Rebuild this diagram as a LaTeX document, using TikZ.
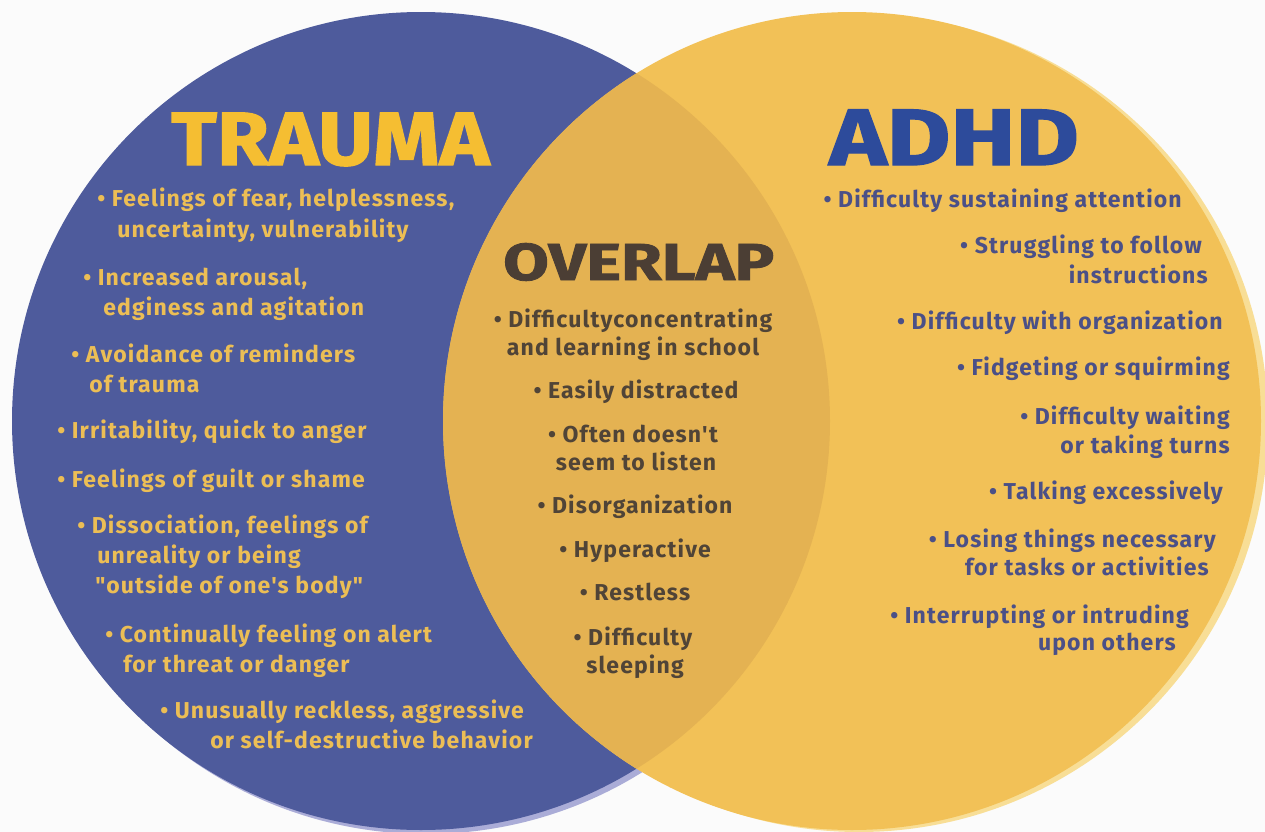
\documentclass[tikz,border=0pt]{standalone}
\usepackage{fontspec}
\setmainfont{Fira Sans}
\newfontfamily\bodyf{Fira Sans}[LetterSpace=5]
\newfontfamily\heavyf{Fira Sans}[BoldFeatures={FakeBold=1.5}]
\usepackage{graphicx}
\definecolor{bgc}{HTML}{FBFBFB}
\definecolor{bluec}{HTML}{4E5B9C}
\definecolor{blueshadow}{HTML}{AAACD7}
\definecolor{yelc}{HTML}{F2C157}
\definecolor{yelshadow}{HTML}{F8DE96}
\definecolor{ovc}{HTML}{E4B252}
\definecolor{trtitle}{HTML}{F5BE32}
\definecolor{trtext}{HTML}{ECBE55}
\definecolor{adtitle}{HTML}{2D4B9B}
\definecolor{adtext}{HTML}{4B5087}
\definecolor{ovtitle}{HTML}{4B3E34}
\definecolor{ovtext}{HTML}{504437}
\newcommand\vbody{\fontsize{17.25}{20}\selectfont\bodyf\bfseries}
\tikzset{
  tr/.style={text=trtext, font=\vbody, inner sep=0pt, anchor=base west},
  ov/.style={text=ovtext, font=\vbody, inner sep=0pt, anchor=base},
  ad/.style={text=adtext, font=\vbody, inner sep=0pt, anchor=base east},
  ttl/.style={inner sep=0pt, anchor=base west}
}
\begin{document}
\begin{tikzpicture}[x=0.75pt,y=-0.75pt]
\useasboundingbox (0,0) rectangle (1265,832);
\fill[bgc] (0,0) rectangle (1265,832);
% circles
\fill[blueshadow] (426,425) circle (409);
\fill[bluec] (421,421) circle (409);
\fill[yelshadow] (859,423) circle (409);
\fill[yelc] (852,421) circle (409);
\begin{scope}
  \clip (421,421) circle (409);
  \fill[ovc] (852,421) circle (409);
\end{scope}
% titles
\node[ttl, text=trtitle, font=\fontsize{56.6}{60}\selectfont\heavyf\bfseries] (trauma) at (171,165) {\scalebox{1.12}[1]{TRAUMA}};
\node[ttl, text=adtitle, font=\fontsize{60}{64}\selectfont\heavyf\bfseries] (adhd) at (829,165) {\scalebox{1.22}[1]{ADHD}};
\node[ttl, text=ovtitle, font=\fontsize{39}{42}\selectfont\heavyf\bfseries] (overlap) at (503,280) {\scalebox{1.27}[1]{OVERLAP}};
% trauma list
\node[tr] (t1a) at (97,206) {• Feelings of fear, helplessness,};
\node[tr] (t1b) at (117,237) {uncertainty, vulnerability};
\node[tr] (t2a) at (83,285) {• Increased arousal,};
\node[tr] (t2b) at (103,315) {edginess and agitation};
\node[tr] (t3a) at (71,362) {• Avoidance of reminders};
\node[tr] (t3b) at (89,392) {of trauma};
\node[tr] (t4) at (57,438) {• Irritability, quick to anger};
\node[tr] (t5) at (57,487) {• Feelings of guilt or shame};
\node[tr] (t6a) at (77,533) {• Dissociation, feelings of};
\node[tr] (t6b) at (97,563) {unreality or being};
\node[tr] (t6c) at (95,593) {"outside of one's body"};
\node[tr] (t7a) at (105,642) {• Continually feeling on alert};
\node[tr] (t7b) at (123,672) {for threat or danger};
\node[tr] (t8a) at (160,718) {• Unusually reckless, aggressive};
\node[tr, anchor=base east] (t8b) at (533,748) {or self-destructive behavior};
% overlap list
\node[ov] (o1a) at (633,327) {• Difficultyconcentrating};
\node[ov] (o1b) at (633,355) {and learning in school};
\node[ov] (o2) at (636,398) {• Easily distracted};
\node[ov] (o3a) at (633,442) {• Often doesn't};
\node[ov] (o3b) at (636,470) {seem to listen};
\node[ov] (o4) at (635,513) {• Disorganization};
\node[ov] (o5) at (635,557) {• Hyperactive};
\node[ov] (o6) at (635,600) {• Restless};
\node[ov] (o7a) at (633,645) {• Difficulty};
\node[ov] (o7b) at (635,673) {sleeping};
% adhd list
\node[ad] (a1) at (1182,207) {• Difficulty sustaining attention};
\node[ad] (a2a) at (1202,253) {• Struggling to follow};
\node[ad] (a2b) at (1208,283) {instructions};
\node[ad] (a3) at (1223,329) {• Difficulty with organization};
\node[ad] (a4) at (1230,375) {• Fidgeting or squirming};
\node[ad] (a5a) at (1230,424) {• Difficulty waiting};
\node[ad] (a5b) at (1230,453) {or taking turns};
\node[ad] (a6) at (1223,499) {• Talking excessively};
\node[ad] (a7a) at (1216,547) {• Losing things necessary};
\node[ad] (a7b) at (1209,575) {for tasks or activities};
\node[ad] (a8a) at (1189,623) {• Interrupting or intruding};
\node[ad] (a8b) at (1176,650) {upon others};
\end{tikzpicture}
\end{document}
